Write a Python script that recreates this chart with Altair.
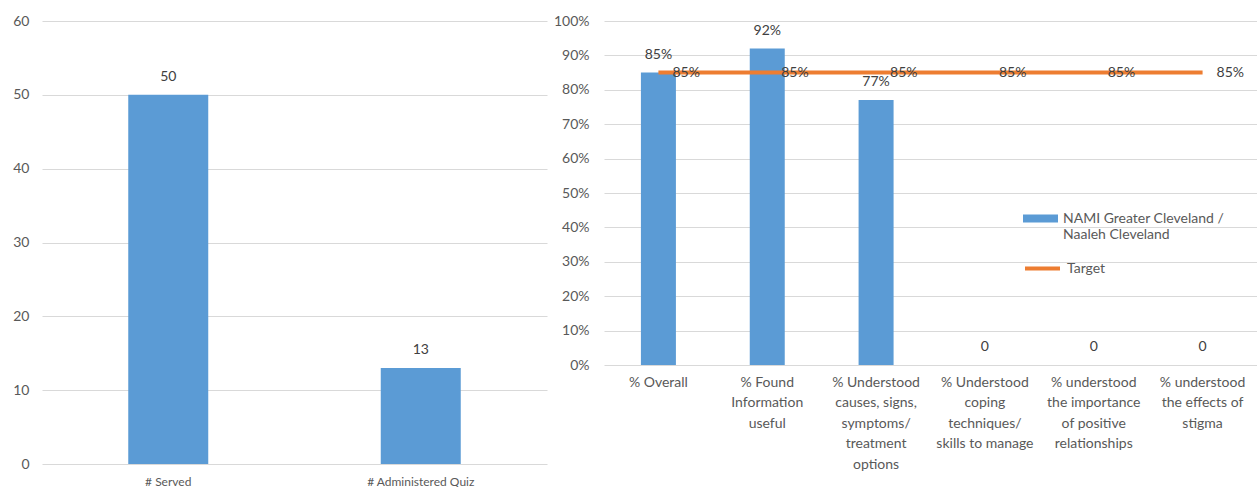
import altair as alt
import pandas as pd

# ---- data ----
left_categories = ["# Served", "# Administered Quiz"]
left_values = [50, 13]
left_ticks = [0, 10, 20, 30, 40, 50, 60]

right_categories = [
    "% Overall",
    "% Found|Information|useful",
    "% Understood|causes, signs,|symptoms/|treatment|options",
    "% Understood|coping|techniques/|skills to manage",
    "% understood|the importance|of positive|relationships",
    "% understood|the effects of|stigma",
]
right_values = [0.85, 0.92, 0.77, 0, 0, 0]
target_values = [0.85, 0.85, 0.85, 0.85, 0.85, 0.85]
right_ticks = [0, 0.1, 0.2, 0.3, 0.4, 0.5, 0.6, 0.7, 0.8, 0.9, 1.0]

series_bar = "NAMI Greater Cleveland /|Naaleh Cleveland"
series_line = "Target"

BLUE = "#5B9BD5"
ORANGE = "#ED7D31"
GRID = "#D9D9D9"
LABEL = "#595959"
TEXT = "#404040"
FONT = "Lato"

left_df = pd.DataFrame({"cat": left_categories, "value": left_values})
left_df["label"] = left_df["value"].astype(str)

right_df = pd.DataFrame({
    "cat": right_categories,
    "value": right_values,
    "target": target_values,
})
right_df["label"] = [("0" if v == 0 else f"{round(v*100)}%") for v in right_values]
right_df["tlabel"] = [f"{round(v*100)}%" for v in target_values]
right_df["series"] = series_bar
right_df["series2"] = series_line

# ---- left chart ----
lx_axis = alt.Axis(labelAngle=0, domain=False, ticks=False, grid=False, labelPadding=12,
                   labelFontSize=12, labelColor=LABEL, labelFont=FONT)
ly_axis = alt.Axis(values=left_ticks, domain=False, ticks=False, grid=True,
                   labelPadding=13, labelFontSize=14, labelColor=LABEL, labelFont=FONT,
                   gridColor=GRID, gridWidth=1, labelOverlap=False)
ly_scale = alt.Scale(domain=[0, 60], nice=False)

left_bars = alt.Chart(left_df).mark_bar(color=BLUE, size=80).encode(
    x=alt.X("cat:N", sort=left_categories, title=None, axis=lx_axis),
    y=alt.Y("value:Q", title=None, scale=ly_scale, axis=ly_axis),
)
left_text = alt.Chart(left_df).mark_text(
    baseline="bottom", dy=-11, fontSize=14, color=TEXT, font=FONT
).encode(
    x=alt.X("cat:N", sort=left_categories, title=None, axis=lx_axis),
    y=alt.Y("value:Q", title=None, scale=ly_scale, axis=ly_axis),
    text="label:N",
)
left = alt.layer(left_bars, left_text).properties(width=505, height=443)

# ---- right chart ----
rx_axis = alt.Axis(labelAngle=0, domain=False, ticks=False, grid=False, labelPadding=10,
                   labelFontSize=14, labelColor=LABEL, labelFont=FONT,
                   labelLineHeight=20.5, labelLimit=200,
                   labelExpr="split(datum.label, '|')")
ry_axis = alt.Axis(values=right_ticks, format=".0%", domain=False, ticks=False, grid=True,
                   labelPadding=15, labelFontSize=14, labelColor=LABEL, labelFont=FONT,
                   gridColor=GRID, gridWidth=1, labelOverlap=False)
ry_scale = alt.Scale(domain=[0, 1], nice=False)


def rx():
    return alt.X("cat:N", sort=right_categories, title=None, axis=rx_axis)


def ry(field):
    return alt.Y(f"{field}:Q", title=None, scale=ry_scale, axis=ry_axis)


right_bars = alt.Chart(right_df).mark_bar(size=35).encode(
    x=rx(), y=ry("value"),
    fill=alt.Fill("series:N", title=None,
                  scale=alt.Scale(domain=[series_bar], range=[BLUE]),
                  legend=alt.Legend(orient="none", legendX=419, legendY=180,
                                    symbolType="M-1,-0.23H1V0.23H-1Z", symbolSize=1225,
                                    symbolStrokeWidth=0, labelOffset=5,
                                    labelFontSize=14, labelColor=LABEL, labelFont=FONT,
                                    labelLimit=300, labelExpr="split(datum.label, '|')",
                                    padding=0)),
)
right_bar_text = alt.Chart(right_df).mark_text(
    baseline="bottom", dy=-11, fontSize=14, color=TEXT, font=FONT
).encode(x=rx(), y=ry("value"), text="label:N")

right_line = alt.Chart(right_df).mark_line(strokeWidth=4).encode(
    x=rx(), y=ry("target"),
    stroke=alt.Stroke("series2:N", title=None,
                      scale=alt.Scale(domain=[series_line], range=[ORANGE]),
                      legend=alt.Legend(orient="none", legendX=419, legendY=228,
                                        symbolType="stroke", symbolSize=1225,
                                        symbolStrokeWidth=4, labelOffset=5,
                                        labelFontSize=14, labelColor=LABEL, labelFont=FONT,
                                        padding=0)),
)
right_line_text = alt.Chart(right_df).mark_text(
    align="left", baseline="middle", dx=14, fontSize=14, color=TEXT, font=FONT
).encode(x=rx(), y=ry("target"), text="tlabel:N")

right = alt.layer(right_bars, right_bar_text, right_line, right_line_text).resolve_scale(
    fill="independent", stroke="independent"
).properties(width=653, height=344)

chart = alt.hconcat(left, right, spacing=6).properties(
    padding={"left": 12, "top": 14, "right": 0, "bottom": 0},
    background="white",
).configure_view(stroke=None)

chart.save("out.html", embed_options={"renderer": "svg", "actions": False})
